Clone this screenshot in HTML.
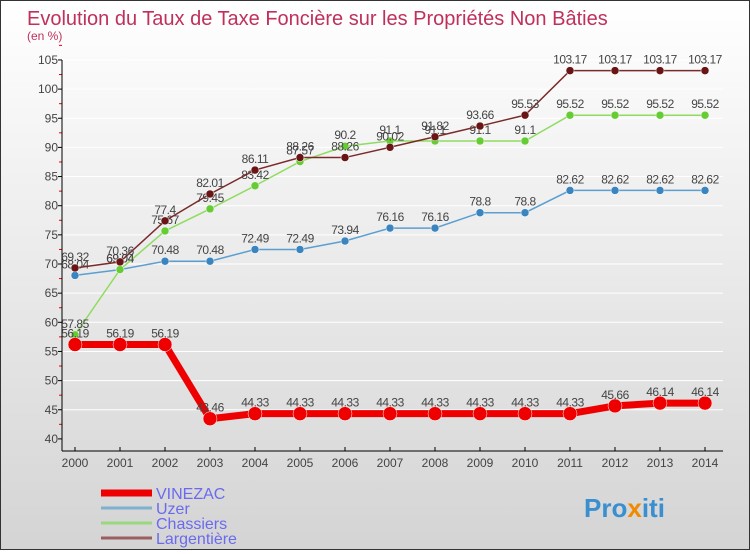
<!DOCTYPE html>
<html><head><meta charset="utf-8"><style>
html,body{margin:0;padding:0}
body{width:750px;height:550px;overflow:hidden;font-family:"Liberation Sans",sans-serif}
#wrap{position:relative;width:748px;height:548px;border:1px solid #333;background:linear-gradient(#ffffff,#d4d4d4)}
</style></head><body>
<div id="wrap">
<svg id="chart" width="748" height="548"></svg>
</div>
<script>
const years=[2000,2001,2002,2003,2004,2005,2006,2007,2008,2009,2010,2011,2012,2013,2014];
const vinezac=[56.19,56.19,56.19,43.46,44.33,44.33,44.33,44.33,44.33,44.33,44.33,44.33,45.66,46.14,46.14];
const uzer=[68.04,69.04,70.48,70.48,72.49,72.49,73.94,76.16,76.16,78.8,78.8,82.62,82.62,82.62,82.62];
const chassiers=[57.85,69.04,75.67,79.45,83.42,87.57,90.2,91.1,91.1,91.1,91.1,95.52,95.52,95.52,95.52];
const largentiere=[69.32,70.36,77.4,82.01,86.11,88.26,88.26,90.02,91.82,93.66,95.53,103.17,103.17,103.17,103.17];
const yTicks=[40,45,50,55,60,65,70,75,80,85,90,95,100,105];
const NS="http://www.w3.org/2000/svg";
const svg=document.getElementById('chart');
const x=i=>74+i*45;
const y=v=>263-(v-70)*5.83;
function el(t,a,p){const e=document.createElementNS(NS,t);for(const k in a)e.setAttribute(k,a[k]);(p||svg).appendChild(e);return e;}
let t=el('text',{x:26,y:24,'font-size':20,fill:'#c0305a'});t.textContent='Evolution du Taux de Taxe Foncière sur les Propriétés Non Bâties';

t=el('text',{x:26,y:39,'font-size':12,fill:'#c0305a'});t.textContent='(en %)';

// grid
yTicks.forEach(v=>{
 if(v>40){const g=el('line',{x1:61,x2:722,y1:y(v),y2:y(v),stroke:'#fff','stroke-width':1});}
 el('line',{x1:57,x2:61,y1:y(v),y2:y(v),stroke:'#000'});
 el('line',{x1:58,x2:61,y1:y(v+2.5),y2:y(v+2.5),stroke:'#e00'});
 const l=el('text',{x:57,y:y(v)+4,'font-size':12,fill:'#444','text-anchor':'end'});l.textContent=v;
 
});
const ya=el('line',{x1:61,x2:61,y1:y(105),y2:450,stroke:'#000'});
const xa=el('line',{x1:61,x2:722,y1:450,y2:450,stroke:'#000'});
years.forEach((yr,i)=>{
 el('line',{x1:x(i),x2:x(i),y1:446,y2:450,stroke:'#000'});
 const l=el('text',{x:x(i),y:466,'font-size':12,fill:'#444','text-anchor':'middle'});l.textContent=yr;
 
});
function series(data,color,fill,w,r,name){
 const g=el('g',{});
 el('polyline',{points:data.map((v,i)=>x(i)+','+y(v)).join(' '),fill:'none',stroke:color,'stroke-width':w},g);
 data.forEach((v,i)=>{
  const c=el('circle',{cx:x(i),cy:y(v),r:r,fill:fill,stroke:'#fff','stroke-width':0.5},g);
  
  const l=el('text',{x:x(i),y:y(v)-7,'font-size':12,fill:'#444','text-anchor':'middle','letter-spacing':'-0.5'},g);l.textContent=v;
  
 });
}
series(uzer,'#5a9fd0','#3a85c0',1.5,4,'uzer');
series(chassiers,'#8fdc60','#66cc33',1.5,4,'chassiers');
series(largentiere,'#7a2a2a','#6a1515',1.5,4,'largentiere');
series(vinezac,'#ee0000','#ee0000',7,7,'vinezac');
// legend
const leg=[['VINEZAC','#ee0000',7],['Uzer','#7fb0d0',3],['Chassiers','#9ad880',3],['Largentière','#9a6060',3]];
leg.forEach((d,i)=>{
 const yy=492+i*15;
 const g=el('g',{});
 el('line',{x1:100,x2:151,y1:yy,y2:yy,stroke:d[1],'stroke-width':d[2]},g);
 const l=el('text',{x:155,y:yy+6,'font-size':16,fill:'#6a6af0'},g);l.textContent=d[0];
});
// logo
const lg=el('text',{x:583,y:516,'font-size':26,'font-weight':'bold',fill:'#3a8fd0'});

[['Pro','#3a8fd0'],['x','#f08a00'],['iti','#3a8fd0']].forEach(s=>{const sp=el('tspan',{fill:s[1]},lg);sp.textContent=s[0];});
</script>
</body></html>
